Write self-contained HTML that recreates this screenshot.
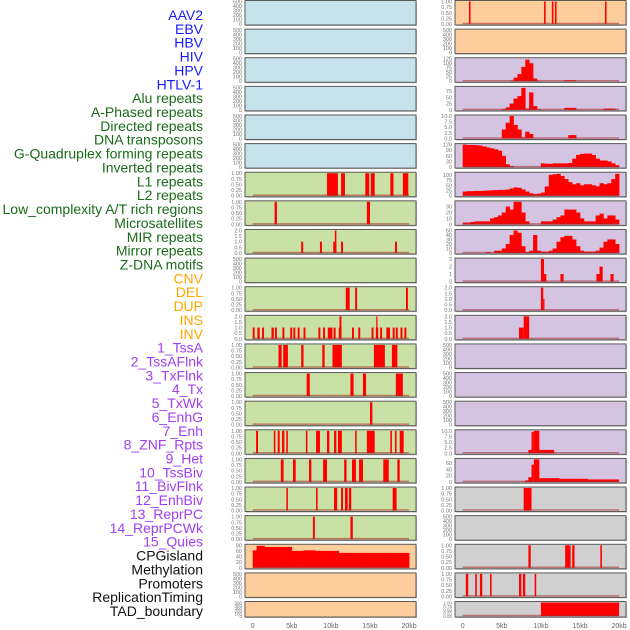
<!DOCTYPE html>
<html><head><meta charset="utf-8">
<style>
html,body{margin:0;padding:0;background:#fff;width:630px;height:630px;overflow:hidden}
svg{display:block}
</style></head>
<body>
<svg id="chart" width="630" height="630" xmlns="http://www.w3.org/2000/svg" font-family="Liberation Sans, sans-serif"></svg>
<script>
// ---- labels ----
const trackLabels = ["AAV2","EBV","HBV","HIV","HPV","HTLV-1","Alu repeats","A-Phased repeats","Directed repeats","DNA transposons","G-Quadruplex forming repeats","Inverted repeats","L1 repeats","L2 repeats","Low_complexity A/T rich regions","Microsatellites","MIR repeats","Mirror repeats","Z-DNA motifs","CNV","DEL","DUP","INS","INV","1_TssA","2_TssAFlnk","3_TxFlnk","4_Tx","5_TxWk","6_EnhG","7_Enh","8_ZNF_Rpts","9_Het","10_TssBiv","11_BivFlnk","12_EnhBiv","13_ReprPC","14_ReprPCWk","15_Quies","CPGisland","Methylation","Promoters","ReplicationTiming","TAD_boundary"];
const labelGroups = [6,13,5,15,5];
const groupColors = ["#1a1aff","#1a6b1a","#ffa500","#a040f0","#111111"];
const xTicks = [0,5,10,15,20];
const xTickLabels = ["0","5kb","10kb","15kb","20kb"];

// ---- tick label sets ----
const T500 = [0,100,200,300,400,500];
const T1 = [0,0.25,0.5,0.75,1];
const T2 = [0,0.5,1,1.5,2];

// ---- left column data (interval bars: [startKb,endKb,value]) ----
const L6 = [[9.5,10.9,1],[11.3,11.8,1],[14.4,14.9,1],[15.1,15.6,1],[17.6,18.0,1],[19.2,19.9,1]];
const L7 = [[2.8,3.1,1],[14.6,15.0,1]];
const L8 = [[6.2,6.45,1],[8.6,8.85,1],[10.3,10.7,1],[10.5,10.7,2],[11.3,11.55,1],[18.2,18.45,1]];
const L10 = [[11.9,12.4,1],[13.1,13.35,1],[19.6,19.85,1]];
const L11 = [[0,0.25,1],[0.6,0.9,1],[1.2,1.45,1],[2.4,2.7,1],[2.85,3.1,1],[3.8,4.05,1],[4.8,5.05,1],[5.2,5.45,1],[5.75,6.0,1],[6.5,6.75,1],[8.4,8.65,1],[9.0,9.25,1],[9.6,10.2,1],[10.35,10.6,1],[11.0,11.35,1],[11.1,11.35,2],[12.7,12.95,1],[13.5,13.75,1],[15.2,15.45,1],[15.75,16.05,1],[15.8,15.9,2],[16.3,16.55,1],[17.1,17.55,1],[17.9,18.15,1],[18.3,18.55,1],[18.9,19.15,1],[19.4,19.65,1]];
const L12 = [[3.3,3.7,1],[3.9,4.5,1],[6.2,6.5,1],[8.9,9.2,1],[10.2,11.4,1],[15.5,16.9,1],[17.8,18.5,1]];
const L13 = [[6.9,7.3,1],[12.5,12.9,1],[14.1,14.5,1],[18.3,19.2,1]];
const L14 = [[15.0,15.3,1]];
const L15 = [[0.43,0.68,1],[2.7,2.9,1],[3.2,3.45,1],[3.75,4.05,1],[4.3,4.5,1],[6.8,7.0,1],[8.1,8.6,1],[9.5,9.8,1],[10.4,10.7,1],[10.9,11.4,1],[13.1,13.3,1],[14.6,15.6,1],[17.6,17.8,1],[18.2,18.4,1],[18.8,19.3,1]];
const L16 = [[3.6,3.95,1],[5.15,5.5,1],[7.2,7.5,1],[9.0,9.5,1],[11.7,12.0,1],[12.7,13.2,1],[13.6,14.1,1],[16.7,17.4,1],[18.5,18.8,1]];
const L17 = [[4.3,4.5,1],[8.1,8.3,1],[10.4,10.8,1],[11.3,11.55,1],[11.8,12.15,1],[12.3,12.6,1],[17.9,18.4,1]];
const L18 = [[7.7,7.95,1],[12.5,12.8,1]];
// CPG island histogram (0.5kb bins)
const L19hist = [62,78,78,74,74,74,74,74,74,74,60,60,60,62,62,62,60,60,60,60,60,60,53,53,53,53,53,53,53,53,53,53,53,53,53,53,53,53,53,53];

// ---- right column data ----
const R0 = [[0.8,1.0,1],[10.4,10.6,1],[11.4,11.6,1],[11.8,12.0,1],[18.2,18.4,1]];
const R2hist = [0,0,0,0,0,0,0,0,0,0,0,0,3,20,40,80,120,100,15,2,0,0,0,0,0,0,5,5,5,0,0,0,0,0,0,0,0,0,0,0];
const R3hist = [0,0,0,0,0,0,0,0,0,0,3,10,25,45,55,88,5,70,15,2,0,0,0,0,0,0,8,8,8,0,0,0,0,0,0,0,5,5,5,0];
const R4hist = [0,0,0,0,0,0,0,0,0,0,4,7,10,6,4,0.5,3,2,0,0,0,0,0,0,0,0,0,1.5,1.5,0,0,0,0,0,0,0,0,0,0,0];
const R5hist = [120,118,118,117,115,110,105,100,95,88,60,15,5,0,0,0,0,0,0,0,20,18,17,20,20,20,20,22,45,65,70,72,72,65,45,35,35,30,20,10];
const R6hist = [20,22,22,23,23,24,25,26,27,28,28,30,35,40,38,30,20,12,8,10,15,45,100,103,105,95,80,65,55,60,50,55,55,50,45,60,55,60,80,105];
const R7hist = [3,3,4,5,5,5,5,10,12,15,20,30,25,38,38,20,5,0,0,0,5,5,5,8,12,15,25,25,25,20,10,5,5,5,15,18,10,15,15,8];
const R8hist = [0,0,0,0,0,0,2,0,5,5,10,20,40,50,45,15,2,5,40,5,3,3,5,10,25,35,38,38,30,15,5,3,3,3,5,12,25,30,30,20];
const R9 = [[10.0,10.4,3],[10.4,10.7,1],[12.5,12.9,1],[17.1,17.5,1],[17.5,17.9,2],[18.9,19.3,1]];
const R10 = [[10.0,10.3,2],[10.3,10.45,1]];
const R11 = [[7.2,7.8,1],[7.8,8.5,2]];
const R15 = [[8.4,8.8,1.5],[8.8,9.1,9.5],[9.1,9.8,10],[9.8,11.7,1.5]];
const R16 = [[8.0,8.4,5],[8.4,8.8,15],[8.8,9.1,55],[9.1,9.8,72],[9.8,12.4,12],[12.4,16.0,10],[16.0,20.0,8]];
const R17 = [[7.8,8.8,1]];
const R19 = [[8.4,8.7,1],[13.1,13.8,1],[14.0,14.3,1],[17.6,17.8,1]];
const R20 = [[0.4,0.7,1],[1.6,1.8,1],[2.2,2.5,1],[3.5,3.7,1],[7.2,7.5,1],[7.7,8.0,1],[9.2,9.4,1]];
const R21 = [[10.0,20.0,1]];

const BLUE="#c6e2ea", GREEN="#c9e1a4", PEACH="#fdcd9c", LAV="#d4c4e1", GRAY="#d0d0d0";

// panel specs: [bg, ticks, ymax, bars, hist]
const leftPanels = [
 [BLUE,T500,500,null,null],[BLUE,T500,500,null,null],[BLUE,T500,500,null,null],
 [BLUE,T500,500,null,null],[BLUE,T500,500,null,null],[BLUE,T500,500,null,null],
 [GREEN,T1,1,L6,null],[GREEN,T1,1,L7,null],[GREEN,T2,2,L8,null],[GREEN,T500,500,null,null],
 [GREEN,T1,1,L10,null],[GREEN,T2,2,L11,null],[GREEN,T1,1,L12,null],[GREEN,T1,1,L13,null],
 [GREEN,T1,1,L14,null],[GREEN,T1,1,L15,null],[GREEN,T1,1,L16,null],[GREEN,T1,1,L17,null],
 [GREEN,T1,1,L18,null],[PEACH,[0,20,40,60,80],80,null,L19hist],[PEACH,T500,500,null,null],[PEACH,T500,500,null,null]
];
const rightPanels = [
 [PEACH,T1,1,R0,null],[PEACH,T500,500,null,null],
 [LAV,[0,25,50,75,100,125],125,null,R2hist],[LAV,[0,25,50,75],90,null,R3hist],
 [LAV,[0,2.5,5,7.5,10],10,null,R4hist],[LAV,[0,30,60,90,120],120,null,R5hist],
 [LAV,[0,25,50,75,100],108,null,R6hist],[LAV,[0,10,20,30],38,null,R7hist],
 [LAV,[0,10,20,30,40,50],50,null,R8hist],[LAV,[0,1,2,3],3,R9,null],
 [LAV,T2,2,R10,null],[LAV,T2,2,R11,null],[LAV,T500,500,null,null],[LAV,T500,500,null,null],
 [LAV,T500,500,null,null],[LAV,[0,2.5,5,7.5,10],10,R15,null],[LAV,[0,20,40,60],72,R16,null],
 [GRAY,T1,1,R17,null],[GRAY,T500,500,null,null],[GRAY,T1,1,R19,null],[GRAY,T1,1,R20,null],[GRAY,T1,1,R21,null]
];

const svg = document.getElementById('chart');
const NS = "http://www.w3.org/2000/svg";
function mk(tag, attrs, parent){const e=document.createElementNS(NS,tag);for(const k in attrs)e.setAttribute(k,attrs[k]);(parent||svg).appendChild(e);return e;}

// labels
let li=0;
labelGroups.forEach((n,g)=>{for(let k=0;k<n;k++){
  const t=mk('text',{x:203,y:15+li*13.86+5,'text-anchor':'end','font-size':'14',fill:groupColors[g]});
  t.textContent=trackLabels[li];
  
  
  li++;}});

const KB = 7.82;
function fmt(v,ticks){const dec=ticks.some(t=>t%1!==0);if(!dec)return String(v);const d=ticks.some(t=>Math.abs(t*100%25)>1e-9||String(t).split('.')[1]?.length>=2)?2:(ticks.includes(0.25)?2:1);return v.toFixed(ticks.includes(0.25)?2:1);}

function drawPanel(spec, row, side){
  const [bg,ticks,ymax,bars,hist]=spec;
  const px = side==='left'?245:455, pw=171;
  const top = row*28.62+0.5;
  const h = row===21?15.5:24.5;
  const x0 = px+7.7;
  const g=mk('g',{});
  
  
  mk('rect',{x:px+1,y:top+1,width:pw,height:h,fill:'#bbb'},g);
  mk('rect',{x:px,y:top,width:pw,height:h,fill:bg,stroke:'#5a5a5a','stroke-width':1},g);
  const bot = top+h-1, span=h-2;
  const yv=v=>bot-v/ymax*span;
  const xk=k=>x0+k*KB;
  if(bars){bars.forEach(b=>{const r=mk('rect',{x:xk(b[0]),y:yv(b[2]),width:Math.max(1.2,(b[1]-b[0])*KB),height:bot-yv(b[2]),fill:'#ff0000'},g);
    
    });}
  if(hist){hist.forEach((v,i)=>{if(v<=0)return;const r=mk('rect',{x:xk(i*0.5),y:yv(v),width:0.5*KB+0.3,height:bot-yv(v),fill:'#ff0000'},g);
    
    });}
  if(bars||hist) mk('line',{x1:xk(0),x2:xk(20),y1:bot-0.5,y2:bot-0.5,stroke:'rgba(170,40,40,0.55)','stroke-width':1.5},g);
  const small = row===21;
  ticks.forEach(t=>{
    const tx=mk('text',{x:px-3,y:yv(t)+2,'text-anchor':'end','font-size':small?'4.5':'5.5',fill:'#777'},g);
    tx.textContent = ticks.includes(0.25)?t.toFixed(2):(ticks.includes(0.5)||ticks.includes(2.5)?t.toFixed(1):String(t));
    
    
  });
}
leftPanels.forEach((s,i)=>drawPanel(s,i,'left'));
rightPanels.forEach((s,i)=>drawPanel(s,i,'right'));

// x axes
[252.7,462.7].forEach(x0=>{xTicks.forEach((k,i)=>{
  const t=mk('text',{x:x0+k*KB,y:628,'text-anchor':'middle','font-size':'7',fill:'#666'});
  t.textContent=xTickLabels[i];
  
  
});});
</script>
</body></html>
